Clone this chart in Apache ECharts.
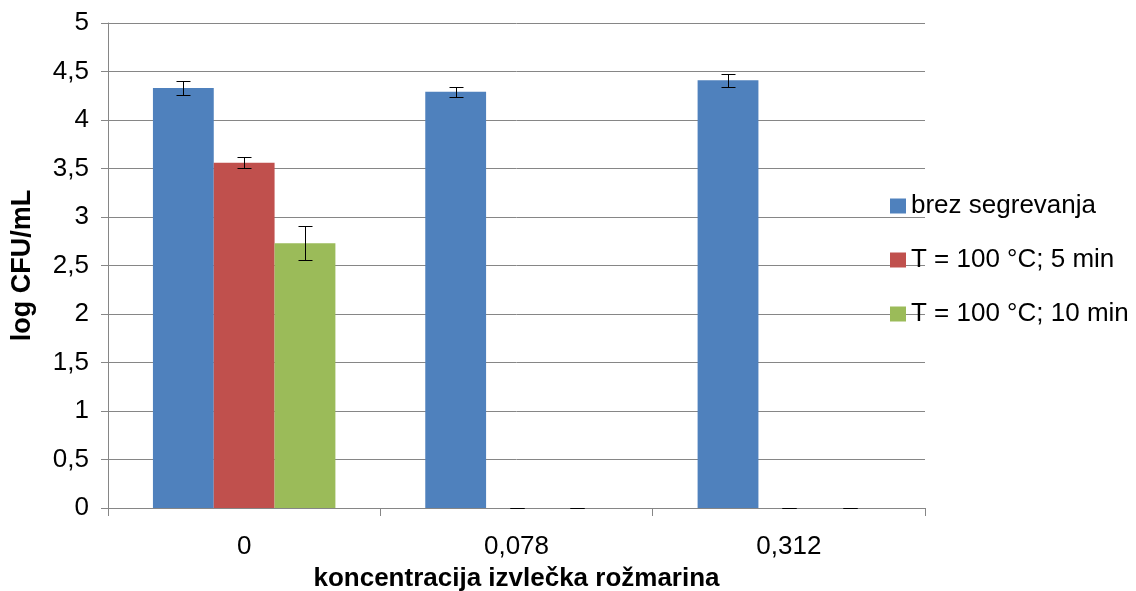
<!DOCTYPE html>
<html>
<head>
<meta charset="utf-8">
<style>
  html, body { margin: 0; padding: 0; background: #fff; }
  #chart { width: 1136px; height: 591px; }
</style>
<script src="https://cdn.jsdelivr.net/npm/echarts@6/dist/echarts.min.js"></script>
</head>
<body>
<div id="chart"></div>
<script>
// Rosemary extract concentration on the x axis, log CFU/mL on the y axis
const categories = ['0', '0,078', '0,312'];
const seriesNames = ['brez segrevanja', 'T = 100 °C; 5 min', 'T = 100 °C; 10 min'];
const brezSegrevanja = [4.33, 4.29, 4.41];
const t100min5 = [3.56, 0, 0];
const t100min10 = [2.73, 0, 0];
const errBrez = [0.075, 0.053, 0.067];
const errMin5 = [0.055, 0, 0];
const errMin10 = [0.178, 0, 0];
const yTicks = [0, 0.5, 1, 1.5, 2, 2.5, 3, 3.5, 4, 4.5, 5];

const FONT = '"Liberation Sans", Arial, sans-serif';
const FS = 26;
const GRAY = '#868686';
const colors = ['#4F81BD', '#C0504D', '#9BBB59'];
const CAT_GAP = 0.33;

const values = [brezSegrevanja, t100min5, t100min10];
const errors = [errBrez, errMin5, errMin10];

// Error bars centred on each bar of a group (three bars, no gap between them)
function errorSeries(idx) {
  return {
    type: 'custom',
    name: seriesNames[idx] + ' err',
    z: 10,
    silent: true,
    encode: { x: 0, y: 1 },
    data: values[idx].map((v, i) => [i, v, errors[idx][i]]),
    renderItem: function (params, api) {
      const ci = api.value(0), v = api.value(1), e = api.value(2);
      const catW = api.size([1, 0])[0];
      const bw = catW * (1 - CAT_GAP) / 3;
      const center = api.coord([ci, v]);
      const x = Math.round(center[0] + (idx - 1) * bw) + 0.5;
      const yTop = Math.round(api.coord([ci, v + e])[1]) + 0.5;
      const yBot = Math.round(api.coord([ci, v - e])[1]) + 0.5;
      const half = 7;
      const style = { stroke: '#000', lineWidth: 1 };
      return {
        type: 'group',
        children: [
          { type: 'line', shape: { x1: x, y1: yTop, x2: x, y2: yBot }, style: style },
          { type: 'line', shape: { x1: x - half, y1: yTop, x2: x + half, y2: yTop }, style: style },
          { type: 'line', shape: { x1: x - half, y1: yBot, x2: x + half, y2: yBot }, style: style }
        ]
      };
    }
  };
}

const chart = echarts.init(document.getElementById('chart'), null, { renderer: 'canvas' });
chart.setOption({
  animation: false,
  backgroundColor: '#fff',
  textStyle: { fontFamily: FONT },
  grid: {
    left: 108, right: 211, top: 23, bottom: 83,
    containLabel: false,
    outerBoundsMode: 'none'
  },
  legend: {
    orient: 'vertical',
    left: 890,
    top: 193,
    padding: 0,
    itemWidth: 16,
    itemHeight: 15,
    itemGap: 28,
    icon: 'rect',
    data: seriesNames,
    textStyle: { fontSize: FS, color: '#000', fontFamily: FONT }
  },
  xAxis: {
    type: 'category',
    data: categories,
    name: 'koncentracija izvlečka rožmarina',
    nameLocation: 'middle',
    nameGap: 58,
    nameTextStyle: { fontSize: FS, fontWeight: 'bold', color: '#000', fontFamily: FONT },
    axisLine: { lineStyle: { color: GRAY, width: 1 } },
    axisTick: { show: true, length: 8, lineStyle: { color: GRAY } },
    axisLabel: { fontSize: FS, color: '#000', margin: 26, fontFamily: FONT },
    splitLine: { show: false }
  },
  yAxis: {
    type: 'value',
    min: yTicks[0],
    max: yTicks[yTicks.length - 1],
    interval: yTicks[1] - yTicks[0],
    name: 'log CFU/mL',
    nameLocation: 'middle',
    nameGap: 72,
    nameTextStyle: { fontSize: 27, fontWeight: 'bold', color: '#000', fontFamily: FONT },
    axisLine: { show: true, lineStyle: { color: GRAY, width: 1 } },
    axisTick: { show: true, length: 7, lineStyle: { color: GRAY } },
    axisLabel: {
      fontSize: FS, color: '#000', margin: 19, fontFamily: FONT,
      formatter: v => String(v).replace('.', ',')
    },
    splitLine: { show: true, lineStyle: { color: GRAY, width: 1 } }
  },
  series: [
    ...seriesNames.map((name, idx) => ({
      type: 'bar',
      name: name,
      data: values[idx],
      barGap: '0%',
      barCategoryGap: (CAT_GAP * 100) + '%',
      itemStyle: { color: colors[idx] }
    })),
    errorSeries(0),
    errorSeries(1),
    errorSeries(2)
  ]
});
</script>
</body>
</html>
